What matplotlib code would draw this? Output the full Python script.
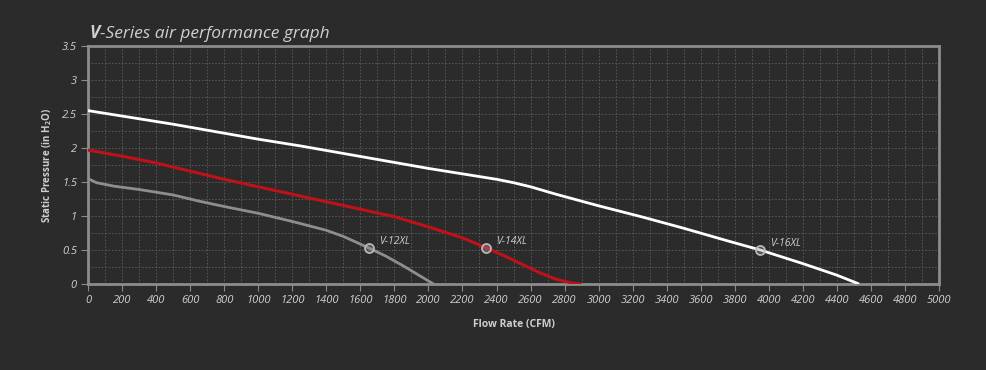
import matplotlib
matplotlib.use("Agg")
import matplotlib.pyplot as plt
from matplotlib.ticker import MultipleLocator

plt.rcParams['font.family'] = ['Open Sans', 'DejaVu Sans']

# Data
v16_cfm = [0, 250, 500, 750, 1000, 1250, 1500, 1750, 2000, 2250, 2400, 2500, 2600, 2750, 3000, 3250, 3500, 3750, 3950, 4200, 4400, 4530]
v16_sp  = [2.55, 2.45, 2.35, 2.24, 2.13, 2.03, 1.92, 1.81, 1.70, 1.60, 1.54, 1.49, 1.43, 1.32, 1.15, 0.99, 0.82, 0.64, 0.50, 0.30, 0.13, 0.0]

v14_cfm = [0, 200, 400, 600, 800, 1000, 1200, 1400, 1600, 1800, 2000, 2200, 2340, 2450, 2550, 2650, 2750, 2850, 2900]
v14_sp  = [1.97, 1.88, 1.78, 1.66, 1.54, 1.43, 1.32, 1.21, 1.10, 0.99, 0.84, 0.68, 0.53, 0.41, 0.29, 0.17, 0.07, 0.01, 0.0]

v12_cfm = [0, 50, 150, 300, 500, 650, 800, 1000, 1200, 1400, 1500, 1580, 1650, 1750, 1850, 1950, 2030]
v12_sp  = [1.55, 1.49, 1.44, 1.39, 1.31, 1.22, 1.14, 1.04, 0.92, 0.79, 0.70, 0.61, 0.53, 0.41, 0.27, 0.12, 0.0]

models = ["V-12XL", "V-14XL", "V-16XL"]
rated_cfm = [1650, 2340, 3950]
rated_sp = [0.53, 0.53, 0.50]

x_ticks = list(range(0, 5001, 200))
y_ticks = [0, 0.5, 1, 1.5, 2, 2.5, 3, 3.5]
y_tick_labels = ["0", "0.5", "1", "1.5", "2", "2.5", "3", "3.5"]

BG = "#2b2b2b"
TXT = "#cfcfcf"

fig = plt.figure(figsize=(9.87, 3.70), dpi=100, facecolor=BG)
ax = fig.add_axes([0.0892, 0.2324, 0.8622, 0.6432], facecolor=BG)

ax.set_xlim(0, 5000)
ax.set_ylim(0, 3.5)

ax.xaxis.set_minor_locator(MultipleLocator(100))
ax.yaxis.set_minor_locator(MultipleLocator(0.25))
ax.set_xticks(x_ticks)
ax.set_xticklabels([str(t) for t in x_ticks])
ax.set_yticks(y_ticks)
ax.set_yticklabels(y_tick_labels)

ax.grid(True, which='both', color='#5e5e5e', linestyle=(0, (2, 2)), linewidth=0.6)
ax.set_axisbelow(True)

for s in ax.spines.values():
    s.set_color('#8c8c8c')
    s.set_linewidth(2)

ax.tick_params(which='major', direction='out', length=5, width=0.8, color='#8c8c8c',
               labelcolor=TXT, labelsize=8, pad=3)
ax.tick_params(which='minor', length=0)
for lab in ax.get_xticklabels() + ax.get_yticklabels():
    lab.set_fontstyle('italic')

ax.plot(v12_cfm, v12_sp, color='#8e8e8e', linewidth=2, solid_capstyle='butt', zorder=3)
ax.plot(v14_cfm, v14_sp, color='#c0111b', linewidth=2.2, solid_capstyle='butt', zorder=3)
ax.plot(v16_cfm, v16_sp, color='#ffffff', linewidth=2, solid_capstyle='butt', zorder=3)

ax.scatter(rated_cfm, rated_sp, s=42, facecolors=(0.6, 0.6, 0.6, 0.35),
           edgecolors='#b8b8b8', linewidths=1.3, zorder=5)
for m, xv, yv in zip(models, rated_cfm, rated_sp):
    ax.annotate(m, (xv, yv), xytext=(7, 3), textcoords='offset points',
                color=TXT, fontsize=7.5, fontstyle='italic', zorder=6)

ax.set_xlabel("Flow Rate (CFM)", color=TXT, fontsize=7.5, fontweight='bold', labelpad=9)
ax.set_ylabel("Static Pressure (in H$_\\mathregular{2}$O)", color=TXT, fontsize=7,
              fontweight='bold', labelpad=6)

t1 = fig.text(0.0905, 0.897, "V", color=TXT, fontsize=12.5, fontweight='bold', fontstyle='italic')
fig.canvas.draw()
bb = t1.get_window_extent()
fig.text(bb.x1 / fig.bbox.width, 0.897, "-Series air performance graph",
         color=TXT, fontsize=12.5, fontstyle='italic')

fig.savefig("out.png", dpi=100, facecolor=BG)
